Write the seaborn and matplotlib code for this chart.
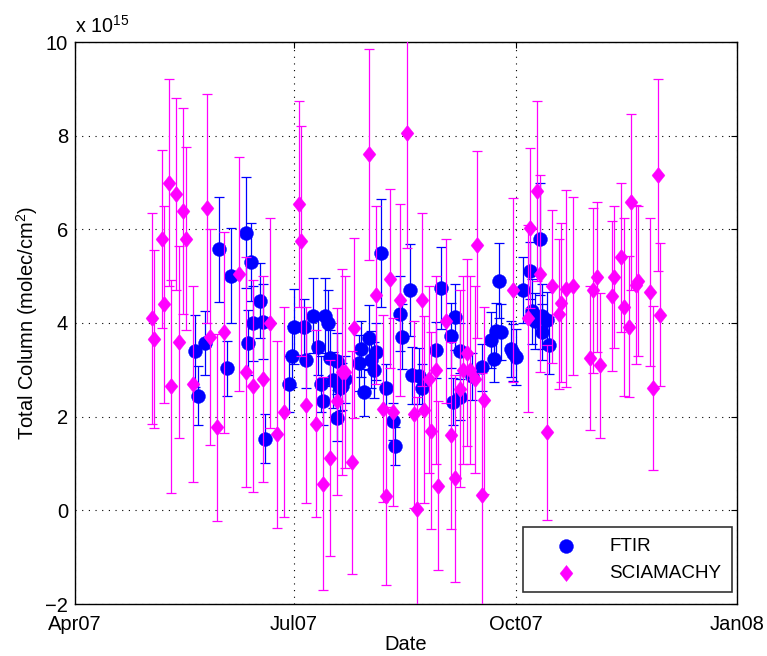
import matplotlib
matplotlib.use("Agg")
import matplotlib.pyplot as plt
import numpy as np
import pandas as pd
import seaborn as sns

# ---------------- data (values in units of 1e15 molec/cm^2) ----------------
ftir_dates = [
    "2007-05-21", "2007-05-22", "2007-05-25", "2007-05-31", "2007-06-03", "2007-06-05",
    "2007-06-11", "2007-06-12", "2007-06-13", "2007-06-14", "2007-06-17", "2007-06-18",
    "2007-06-19", "2007-06-29", "2007-06-30", "2007-07-01", "2007-07-05", "2007-07-06",
    "2007-07-09", "2007-07-11", "2007-07-12", "2007-07-13", "2007-07-14", "2007-07-15",
    "2007-07-16", "2007-07-17", "2007-07-19", "2007-07-19", "2007-07-20", "2007-07-21",
    "2007-07-22", "2007-07-28", "2007-07-29", "2007-07-30", "2007-08-01", "2007-08-02",
    "2007-08-03", "2007-08-04", "2007-08-06", "2007-08-08", "2007-08-11", "2007-08-12",
    "2007-08-14", "2007-08-15", "2007-08-18", "2007-08-19", "2007-08-22", "2007-08-23",
    "2007-08-29", "2007-08-31", "2007-09-04", "2007-09-05", "2007-09-06", "2007-09-08",
    "2007-09-08", "2007-09-13", "2007-09-17", "2007-09-21", "2007-09-22", "2007-09-23",
    "2007-09-24", "2007-09-25", "2007-09-29", "2007-09-30", "2007-10-01", "2007-10-04",
    "2007-10-07", "2007-10-08", "2007-10-09", "2007-10-11", "2007-10-12", "2007-10-12",
    "2007-10-14", "2007-10-15",
]
ftir_values = [
    3.41, 2.45, 3.58, 5.57, 3.03, 5.01,
    5.93, 3.58, 5.31, 3.99, 4.48, 4.03,
    1.53, 2.69, 3.29, 3.92, 3.92, 3.22,
    4.16, 3.48, 2.69, 2.33, 4.16, 4.00,
    3.26, 2.79, 3.18, 1.98, 2.62, 2.65,
    2.80, 3.15, 3.45, 2.52, 3.69, 3.22,
    3.00, 3.39, 5.50, 2.62, 1.90, 1.37,
    4.20, 3.71, 4.71, 2.88, 2.86, 2.62,
    3.43, 4.75, 3.73, 2.32, 4.13, 3.41,
    2.43, 2.86, 3.05, 3.63, 3.24, 3.82,
    4.90, 3.80, 3.45, 3.37, 3.28, 4.71,
    5.12, 4.25, 4.05, 5.80, 4.14, 3.80,
    4.07, 3.52,
]
ftir_errors = [
    0.77, 0.63, 0.68, 1.13, 0.58, 1.02,
    1.19, 0.70, 0.83, 0.80, 0.81, 0.80,
    0.52, 0.60, 0.65, 0.80, 0.60, 0.60,
    0.80, 0.60, 0.60, 0.50, 0.80, 0.70,
    0.60, 0.60, 0.60, 0.50, 0.50, 0.50,
    0.50, 0.60, 0.60, 0.50, 0.70, 0.60,
    0.60, 0.60, 1.15, 0.50, 0.40, 0.40,
    0.80, 0.70, 0.98, 0.60, 0.60, 0.50,
    0.60, 0.87, 0.70, 0.50, 0.70, 0.60,
    0.50, 0.50, 0.50, 0.60, 0.50, 0.60,
    0.80, 0.60, 0.60, 0.60, 0.60, 0.70,
    0.60, 0.70, 0.60, 1.20, 0.70, 0.60,
    0.60, 0.60,
]

scia_dates = [
    "2007-05-03", "2007-05-04", "2007-05-07", "2007-05-08", "2007-05-10", "2007-05-11",
    "2007-05-13", "2007-05-14", "2007-05-16", "2007-05-17", "2007-05-20", "2007-05-26",
    "2007-05-27", "2007-05-30", "2007-06-02", "2007-06-08", "2007-06-11", "2007-06-14",
    "2007-06-18", "2007-06-21", "2007-06-24", "2007-06-27", "2007-07-03", "2007-07-04",
    "2007-07-06", "2007-07-10", "2007-07-13", "2007-07-16", "2007-07-19", "2007-07-21",
    "2007-07-22", "2007-07-25", "2007-07-26", "2007-08-01", "2007-08-04", "2007-08-07",
    "2007-08-08", "2007-08-10", "2007-08-11", "2007-08-14", "2007-08-17", "2007-08-20",
    "2007-08-21", "2007-08-23", "2007-08-24", "2007-08-26", "2007-08-27", "2007-08-29",
    "2007-08-30", "2007-09-02", "2007-09-04", "2007-09-06", "2007-09-08", "2007-09-09",
    "2007-09-11", "2007-09-12", "2007-09-14", "2007-09-15", "2007-09-17", "2007-09-18",
    "2007-09-30", "2007-10-06", "2007-10-07", "2007-10-10", "2007-10-11", "2007-10-14",
    "2007-10-16", "2007-10-19", "2007-10-20", "2007-10-22", "2007-10-25", "2007-11-01",
    "2007-11-02", "2007-11-04", "2007-11-05", "2007-11-10", "2007-11-11", "2007-11-14",
    "2007-11-15", "2007-11-17", "2007-11-18", "2007-11-20", "2007-11-21", "2007-11-26",
    "2007-11-27", "2007-11-29", "2007-11-30",
]
scia_values = [
    4.10, 3.65, 5.80, 4.40, 7.00, 2.65,
    6.75, 3.60, 6.40, 5.80, 2.70, 6.45,
    3.70, 1.77, 3.80, 5.05, 2.95, 2.65,
    2.80, 4.00, 1.62, 2.10, 6.55, 5.75,
    2.25, 1.85, 0.57, 1.12, 2.33, 2.96,
    2.96, 1.03, 3.90, 7.60, 4.60, 2.17,
    0.30, 4.95, 2.10, 4.50, 8.05, 2.05,
    0.02, 4.50, 2.15, 2.80, 1.70, 3.00,
    0.53, 4.05, 1.60, 0.68, 2.60, 3.00,
    3.37, 3.00, 2.80, 5.67, 0.33, 2.35,
    4.70, 4.10, 6.03, 6.82, 5.05, 1.67,
    4.78, 4.20, 4.43, 4.73, 4.78, 3.25,
    4.70, 4.98, 3.10, 4.58, 4.98, 5.40,
    4.35, 3.92, 6.58, 4.82, 4.90, 4.67,
    2.62, 7.15, 4.18,
]
scia_errors = [
    2.25, 1.90, 1.90, 2.10, 2.20, 2.27,
    2.05, 2.05, 2.20, 1.95, 2.10, 2.45,
    2.30, 2.00, 2.15, 2.50, 2.45, 2.26,
    2.20, 2.25, 2.00, 2.25, 2.20, 2.45,
    2.10, 2.00, 2.27, 2.10, 2.00, 2.20,
    2.05, 2.38, 1.92, 2.25, 1.90, 2.00,
    1.90, 1.92, 2.00, 2.05, 2.45, 2.00,
    2.40, 1.85, 2.00, 2.00, 2.10, 2.00,
    1.80, 1.75, 2.00, 2.20, 2.10, 2.00,
    2.00, 2.00, 2.00, 2.00, 2.60, 2.00,
    1.97, 2.00, 1.70, 1.92, 2.10, 1.87,
    1.64, 1.60, 1.70, 2.10, 1.90, 1.53,
    1.76, 1.60, 1.55, 1.60, 1.52, 1.60,
    1.90, 1.50, 1.88, 1.70, 1.60, 1.58,
    1.75, 2.05, 1.53,
]

x_ticks = ["2007-04-01", "2007-07-01", "2007-10-01", "2008-01-01"]
x_tick_labels = ["Apr07", "Jul07", "Oct07", "Jan08"]
y_ticks = [-2, 0, 2, 4, 6, 8, 10]

# ---------------- style ----------------
sns.set_theme(style="white")
plt.rcParams["font.family"] = ["Liberation Sans", "DejaVu Sans"]
plt.rcParams["mathtext.fontset"] = "custom"
plt.rcParams["mathtext.rm"] = "Liberation Sans"
plt.rcParams["mathtext.it"] = "Liberation Sans"
plt.rcParams["axes.unicode_minus"] = True
plt.rcParams["text.color"] = "black"
plt.rcParams["axes.labelcolor"] = "black"

BLUE = (0.0, 0.0, 1.0)
MAGENTA = (1.0, 0.0, 1.0)
TICK_FS = 14.5
LABEL_FS = 14.5
LEG_FS = 13.6

ftir = pd.DataFrame({"date": pd.to_datetime(ftir_dates), "value": ftir_values, "err": ftir_errors})
scia = pd.DataFrame({"date": pd.to_datetime(scia_dates), "value": scia_values, "err": scia_errors})

fig = plt.figure(figsize=(7.67, 6.56), dpi=100)
ax = fig.add_axes([75 / 767, 52 / 656, 662 / 767, 562 / 656])

diamond = [(0, 1), (0.8, 0), (0, -1), (-0.8, 0), (0, 1)]

ax.errorbar(ftir["date"], ftir["value"], yerr=ftir["err"], fmt="none",
            ecolor=BLUE, elinewidth=0.9, capsize=3.5, capthick=0.9, zorder=2)
sns.scatterplot(data=ftir, x="date", y="value", ax=ax, color=BLUE, marker="o",
                s=100, edgecolor=BLUE, linewidth=0.3, zorder=3, label="FTIR")
ax.errorbar(scia["date"], scia["value"], yerr=scia["err"], fmt="none",
            ecolor=MAGENTA, elinewidth=0.9, capsize=3.5, capthick=0.9, zorder=4)
sns.scatterplot(data=scia, x="date", y="value", ax=ax, color=MAGENTA, marker=diamond,
                s=135, edgecolor=MAGENTA, linewidth=0.3, zorder=5, label="SCIAMACHY")

ax.set_xlim(pd.Timestamp("2007-04-01"), pd.Timestamp("2008-01-01"))
ax.set_ylim(-2, 10)
ax.set_xticks(pd.to_datetime(x_ticks))
ax.set_xticklabels(x_tick_labels)
ax.set_yticks(y_ticks)
ax.set_yticklabels([("\u2212%d" % -v) if v < 0 else str(v) for v in y_ticks])

ax.grid(True, color="black", linestyle=(0, (1, 5)), linewidth=0.8)
ax.tick_params(direction="in", length=4, width=0.8, top=True, right=True,
               labelsize=TICK_FS, colors="black")
ax.tick_params(axis="y", pad=5)
ax.tick_params(axis="x", pad=8)
for sp in ax.spines.values():
    sp.set_visible(True)
    sp.set_color("black")
    sp.set_linewidth(1.0)

ax.set_xlabel("Date", fontsize=LABEL_FS, labelpad=1)
ax.set_ylabel("Total Column (molec/cm$^2$)", fontsize=LABEL_FS, labelpad=4)
ax.text(0.0, 1.016, r"x 10$^{15}$", transform=ax.transAxes, fontsize=14.2,
        ha="left", va="baseline")

leg = ax.legend(loc="lower right", bbox_to_anchor=(0.9924, 0.0214), borderaxespad=0,
                fontsize=LEG_FS, frameon=True, fancybox=False, edgecolor="black",
                handlelength=3.45, handletextpad=0.6, borderpad=0.55, labelspacing=0.5)
leg.get_frame().set_linewidth(1.2)

fig.savefig("out.png", dpi=100, facecolor="white")
